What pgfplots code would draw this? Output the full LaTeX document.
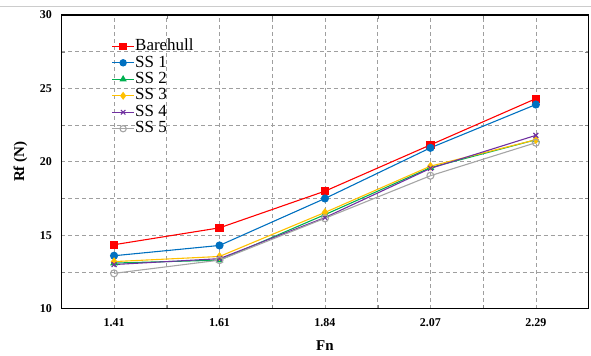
\documentclass[border=0pt]{standalone}
\usepackage{fontspec}
\setmainfont{Liberation Serif}
\usepackage{pgfplots}
\pgfplotsset{compat=1.18}
\definecolor{cRed}{HTML}{FF0000}
\definecolor{cBlue}{HTML}{0070C0}
\definecolor{cGreen}{HTML}{00B050}
\definecolor{cYellow}{HTML}{FFC000}
\definecolor{cPurple}{HTML}{7030A0}
\definecolor{cGray}{HTML}{A5A5A5}
\begin{document}
\begin{tikzpicture}
\begin{axis}[
  name=ax,
  scale only axis,
  width=528pt, height=294pt,
  xmin=-0.5, xmax=4.5,
  ymin=10, ymax=30,
  xtick={0,1,2,3,4},
  xticklabels={1.41,1.61,1.84,2.07,2.29},
  minor xtick={0.5,1.5,2.5,3.5},
  ytick={10,15,20,25,30},
  minor ytick={12.5,17.5,22.5,27.5},
  grid=both,
  major grid style={gray!75, dashed, line width=0.6pt, dash pattern=on 4pt off 3pt},
  minor grid style={gray!75, dashed, line width=0.6pt, dash pattern=on 4pt off 3pt},
  major tick length=0pt,
  minor tick length=4pt,
  axis line style={black, line width=1.2pt},
  /pgf/number format/assume math mode=true,
  ticklabel style={font=\fontsize{12}{12}\selectfont\bfseries},
  yticklabel style={xshift=-6pt},
  xticklabel style={yshift=-6pt},
  xlabel={Fn},
  ylabel={Rf (N)},
  every axis x label/.style={at={(axis description cs:0.5,0)}, yshift=-37pt, anchor=center, font=\fontsize{15}{15}\selectfont\bfseries},
  every axis y label/.style={at={(axis description cs:0,0.5)}, xshift=-41pt, rotate=90, anchor=center, font=\fontsize{15}{15}\selectfont\bfseries},
  legend style={at={(axis description cs:0.095,0.922)}, anchor=north west, draw=none, fill=none,
    font=\fontsize{17}{17}\selectfont, row sep=0pt, inner sep=0pt,
    nodes={inner sep=0.5pt, text height=12pt, text depth=3.5pt}},
  legend cell align=left,
  legend image code/.code={\draw[mark repeat=2,mark phase=2, mark options={scale=0.9}] plot coordinates {(0pt,0pt)(11pt,0pt)(22pt,0pt)};},
  every axis plot/.append style={line width=1.1pt},
]
\addplot[cRed, mark=square*, mark size=3.6pt] coordinates {(0,14.35) (1,15.5) (2,18.0) (3,21.15) (4,24.3)};
\addlegendentry{Barehull}
\addplot[cBlue, mark=*, mark size=3.5pt] coordinates {(0,13.6) (1,14.3) (2,17.5) (3,20.95) (4,23.9)};
\addlegendentry{SS 1}
\addplot[cGreen, mark=triangle*, mark size=3.5pt] coordinates {(0,13.1) (1,13.3) (2,16.4) (3,19.6) (4,21.5)};
\addlegendentry{SS 2}
\addplot[cYellow, mark=diamond*, mark size=3.5pt] coordinates {(0,13.2) (1,13.55) (2,16.55) (3,19.7) (4,21.5)};
\addlegendentry{SS 3}
\addplot[cPurple, mark=x, mark size=3.5pt] coordinates {(0,13.0) (1,13.4) (2,16.2) (3,19.55) (4,21.8)};
\addlegendentry{SS 4}
\addplot[cGray, mark=o, mark size=3.5pt, mark options={fill=white}] coordinates {(0,12.4) (1,13.3) (2,16.15) (3,19.05) (4,21.3)};
\addlegendentry{SS 5}
\end{axis}
\path ([xshift=-61pt,yshift=-47pt]ax.south west) rectangle ([xshift=2pt,yshift=15pt]ax.north east);
\draw[gray!40, line width=0.8pt] ([xshift=-61pt,yshift=9pt]ax.north west) -- ([xshift=2pt,yshift=9pt]ax.north east);
\end{tikzpicture}
\end{document}
